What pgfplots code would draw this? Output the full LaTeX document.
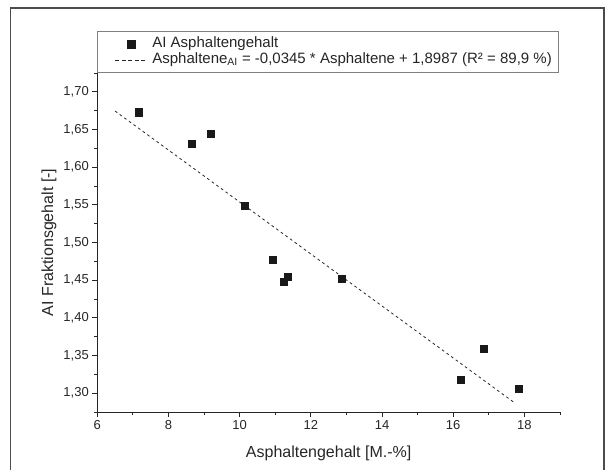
\documentclass[border=0pt]{standalone}
\usepackage{fontspec}
\setmainfont{Liberation Sans}
\usepackage{pgfplots}
\pgfplotsset{compat=1.18}
\pgfplotsset{
  mylegmark/.style={legend image code/.code={\path[draw=none,fill=none] (0pt,0pt) -- (45.7pt,0pt); \draw[mark repeat=2,mark phase=2,##1] plot coordinates {(13.7pt,0pt) (29.7pt,0pt) (45.7pt,0pt)};}},
  myleglin/.style={legend image code/.code={\path[draw=none,fill=none] (0pt,0pt) -- (45.7pt,0pt); \draw[##1, dash pattern=on 4pt off 2.5pt] (13.7pt,0pt) -- (45.7pt,0pt);}},
}
\begin{document}
\begin{tikzpicture}[x=1pt,y=1pt]
\useasboundingbox (0,0) rectangle (610,470);
\draw[line width=1.5pt, color=black!70] (10.5,-2) -- (10.5,462) -- (604,462) -- (604,-2);
\begin{axis}[
  at={(97.3pt,58pt)}, anchor=south west,
  scale only axis, width=462.7pt, height=339pt,
  xmin=6, xmax=19, ymin=1.275, ymax=1.725,
  axis x line*=bottom, axis y line*=left,
  axis line style={line width=0.9pt, -, black!85},
  tick align=outside, major tick length=5pt, minor tick length=3pt,
  every tick/.style={line width=0.8pt, black!85},
  xtick={6,8,10,12,14,16,18},
  minor xtick={7,9,11,13,15,17,19},
  ytick={1.30,1.35,1.40,1.45,1.50,1.55,1.60,1.65,1.70},
  minor ytick={1.275,1.325,1.375,1.425,1.475,1.525,1.575,1.625,1.675,1.725},
  /pgf/number format/assume math mode=true,
  ticklabel style={font=\fontsize{13}{15}\selectfont, text=black!85},
  yticklabel style={/pgf/number format/.cd, fixed, fixed zerofill, precision=2, use comma},
  xticklabel style={/pgf/number format/.cd, fixed, precision=0},
  xlabel={Asphaltengehalt [M.-\%]},
  ylabel={AI Fraktionsgehalt [-]},
  label style={font=\fontsize{16}{18}\selectfont, text=black!85},
  xlabel style={at={(axis description cs:0.5,-0.1348)}, anchor=base},
  ylabel style={at={(axis description cs:-0.1044,0.5)}, anchor=center},
  clip=false,
  legend style={at={(0,1)}, anchor=south west, draw=black!50, line width=0.6pt,
    font=\fontsize{15}{17}\selectfont, text=black!85,
    inner xsep=4pt, inner ysep=4.9pt, row sep=0pt, column sep=2.7pt,
    nodes={inner xsep=2pt, inner ysep=0.8pt, text height=10.6pt, text depth=3.5pt}},
  legend cell align=left,
]
\addplot[only marks, mark=square*, mark size=3.6pt, color=black!90, mylegmark]
  coordinates {
  (7.17,1.673) (8.66,1.631) (9.18,1.644) (10.15,1.549) (10.93,1.477)
  (11.23,1.448) (11.36,1.455) (12.87,1.452) (16.20,1.318) (16.86,1.359) (17.83,1.306)
  };
\addlegendentry{AI Asphaltengehalt}
\addplot[color=black!85, line width=0.8pt, dash pattern=on 2.7pt off 3pt, myleglin]
  coordinates {(6.5,1.67445) (17.7,1.28805)};
\addlegendentry{Asphaltene\textsubscript{AI} = -0,0345 * Asphaltene + 1,8987 (R² = 89,9 \%)}
\end{axis}
\end{tikzpicture}
\end{document}
